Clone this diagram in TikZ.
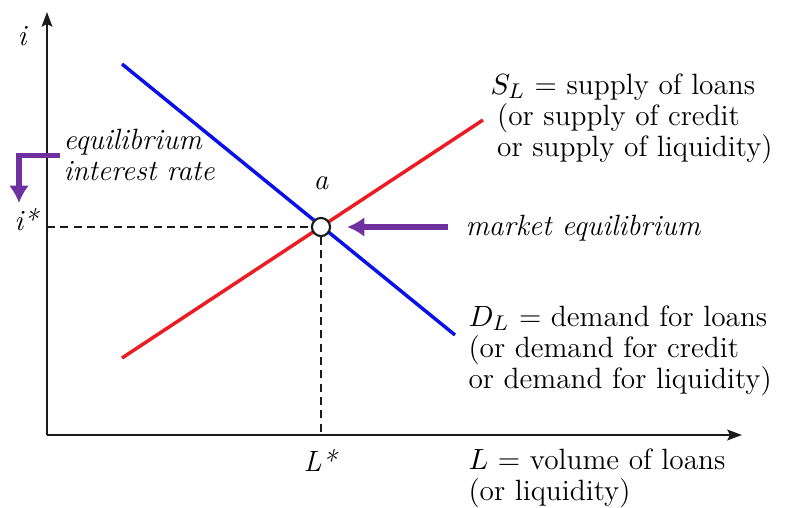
\documentclass[tikz,border=0pt]{standalone}
\usepackage{tikz}
\usetikzlibrary{arrows.meta,positioning,calc}
\definecolor{lnblue}{HTML}{0A10E8}
\definecolor{lnred}{HTML}{EC1B24}
\definecolor{lnpurple}{HTML}{7030A0}
\definecolor{lndark}{HTML}{1A1A1A}
\newcommand{\labfont}{\fontsize{11}{11.6}\selectfont}
\tikzset{
  axis/.style={-{Stealth[length=5.5pt,width=4pt,inset=1pt]},line width=0.8pt,lndark},
  dcurve/.style={draw=lnblue,line width=1.3pt},
  scurve/.style={draw=lnred,line width=1.3pt},
  guide/.style={dash pattern=on 3pt off 2pt,line width=0.6pt,lndark},
  eqpt/.style={circle,draw=lndark,fill=white,line width=0.8pt,minimum size=6.8pt,inner sep=0pt},
  callout/.style={-{Latex[length=6.5pt,width=7.5pt]},line width=1.9pt,lnpurple},
  lab/.style={font=\labfont\itshape,inner sep=0pt},
  txt/.style={font=\labfont,align=left,inner sep=0pt,anchor=north west},
}

\begin{document}
\begin{tikzpicture}[x=0.375pt,y=-0.375pt]
  \useasboundingbox (0,0) rectangle (785,508);
  % axes
  \coordinate (O) at (47,435);
  \coordinate (ytop) at (47,12);
  \coordinate (xend) at (742,435);
  \draw[axis](O)--(ytop);
  \draw[axis](O)--(xend);
  \node[lab,anchor=base] (iax) at (22,45) {i};
  % demand and supply
  \coordinate (d1) at (122,64);
  \coordinate (d2) at (455,335);
  \coordinate (s1) at (122,358);
  \coordinate (s2) at (483,120);
  \draw[dcurve](d1)--(d2);
  \draw[scurve](s1)--(s2);
  % equilibrium
  \node[eqpt] (eq) at (321,227) {};
  \node[lab,above=10pt of eq] (a) {a};
  \draw[guide](O|-eq)--(eq);
  \draw[guide](eq)--(eq|-O);
  \node[lab,anchor=base] (istar) at (26,230) {i*};
  \node[lab,anchor=base] (lstar) at (320,471) {L*};
  % labels
  \node[lab,anchor=base west] (me) at (465,235) {market equilibrium};
  \node[txt,font=\labfont\itshape] (eir) at (63,129) {equilibrium\\interest rate};
  \node[txt] (sl) at (490,73) {$S_L$ = supply of loans\\\hspace*{2.5pt}(or supply of credit\\\hspace*{2.5pt}or supply of liquidity)};
  \node[txt] (dl) at (468,305) {$D_L$ = demand for loans\\(or demand for credit\\or demand for liquidity)};
  \node[txt] (lv) at (468,448) {$L$ = volume of loans\\(or liquidity)};
  % purple arrows
  \coordinate (eirtip) at (19,203);
  \draw[callout,shorten <=6.4pt,shorten >=6pt](me.west|-eq)--(eq.east);
  \draw[callout]([xshift=-1pt]eir.west)-|(eirtip);
\end{tikzpicture}
\end{document}
